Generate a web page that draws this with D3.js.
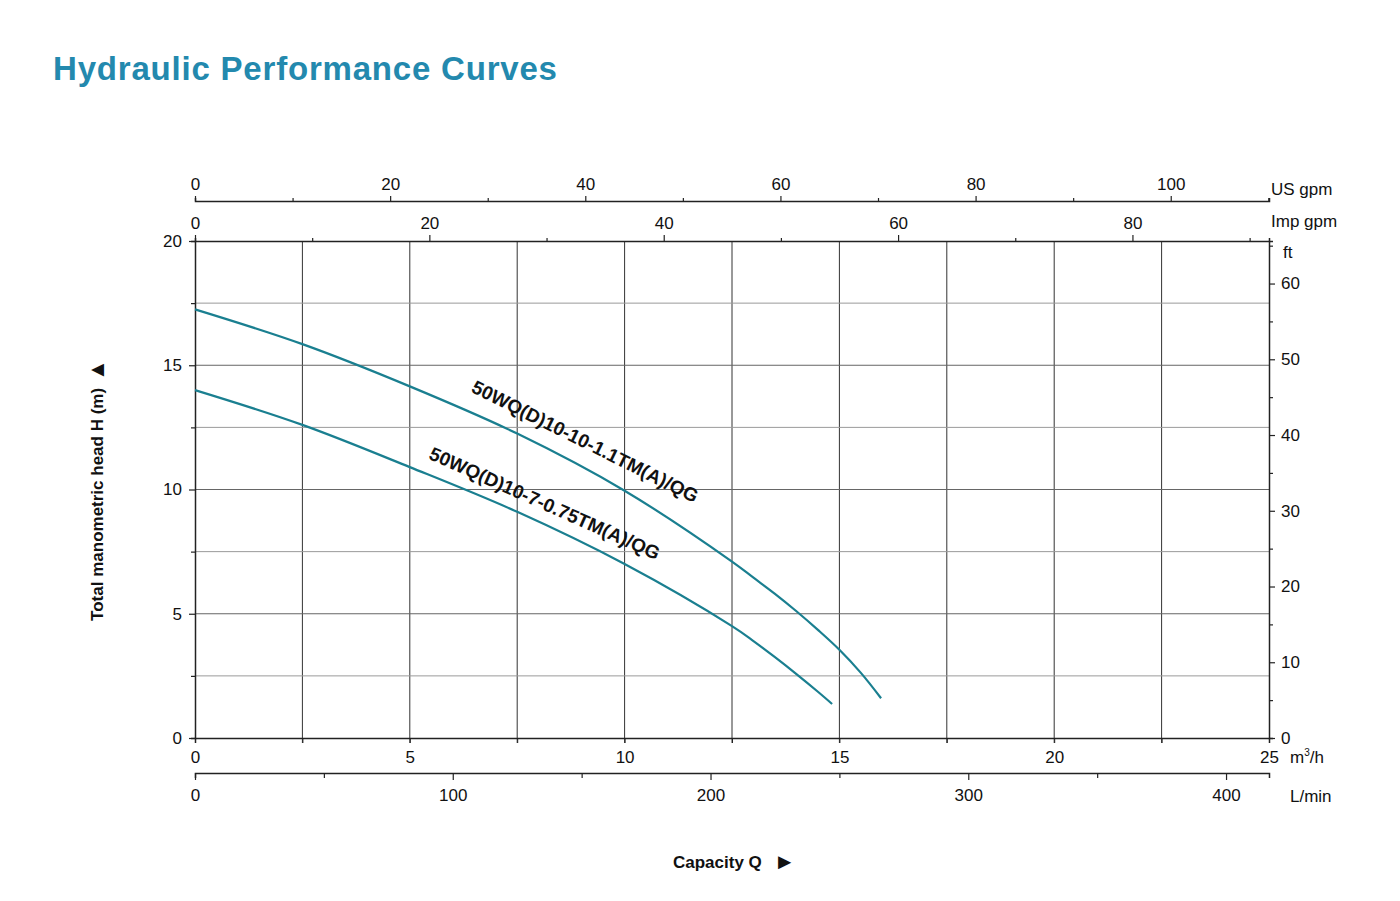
<!DOCTYPE html>
<html>
<head>
<meta charset="utf-8">
<script src="https://cdn.jsdelivr.net/npm/d3@7"></script>
<style>
  body { margin: 0; background: #fff; }
  text { font-family: "Liberation Sans", Arial, sans-serif; }
  .axis text { font-size: 17px; fill: #111; }
  .axis path, .axis line { stroke: #222; }
</style>
</head>
<body>
<svg id="chart" width="1400" height="901"></svg>
<script>
// flow in m3/h, head in m
const flow1 = [0, 2.5, 5, 7.5, 10, 12.5, 13, 13.5, 14, 14.5, 15, 15.5, 15.97];
const head1 = [17.25, 15.85, 14.15, 12.25, 9.95, 7.1, 6.45, 5.8, 5.1, 4.35, 3.55, 2.62, 1.6];
const flow2 = [0, 2.5, 5, 7.5, 10, 12.5, 13, 13.5, 14, 14.5, 14.83];
const head2 = [14.0, 12.6, 10.9, 9.1, 7.0, 4.5, 3.9, 3.25, 2.57, 1.86, 1.37];

const curveNames = ['50WQ(D)10-10-1.1TM(A)/QG', '50WQ(D)10-7-0.75TM(A)/QG'];
// label centre (m3/h, m) and angle
const labelFlow = [9.08, 8.14];
const labelHead = [11.93, 9.44];
const labelAngle = [26.5, 24];

const m3hTicks = [0, 5, 10, 15, 20, 25];
const headTicks = [0, 5, 10, 15, 20];
const ftTicks = [0, 10, 20, 30, 40, 50, 60];
const usTicks = [0, 20, 40, 60, 80, 100];
const impTicks = [0, 20, 40, 60, 80];
const lminTicks = [0, 100, 200, 300, 400];

const svg = d3.select('#chart');

const plotL = 195, plotR = 1269, plotT = 241, plotB = 738;
const qMax = 25, hMax = 20;

let x = d3.scaleLinear().domain([0, qMax]).range([plotL, plotR]);
let y = d3.scaleLinear().domain([0, hMax]).range([plotB, plotT]);
// other unit scales share the same pixel span
let xUS = d3.scaleLinear().domain([0, qMax / 0.227125]).range([plotL, plotR]);
let xImp = d3.scaleLinear().domain([0, qMax / 0.272766]).range([plotL, plotR]);
let xLmin = d3.scaleLinear().domain([0, qMax / 0.06]).range([plotL, plotR]);
let yFt = d3.scaleLinear().domain([0, hMax / 0.3048]).range([plotB, plotT]);

// title
svg.append('text')
  .attr('x', 53).attr('y', 80)
  .style('font-size', '33px').style('font-weight', 'bold')
  .style('letter-spacing', '0.8px')
  .style('fill', '#2389ae')
  .text('Hydraulic Performance Curves');

// grid
const grid = svg.append('g');
grid.selectAll('.vg')
  .data(d3.range(2.5, qMax, 2.5))
  .enter().append('line')
  .attr('x1', (d) => x(d)).attr('x2', (d) => x(d))
  .attr('y1', plotT).attr('y2', plotB + 5)
  .attr('stroke', '#333').attr('stroke-width', 1);
grid.selectAll('.hg')
  .data(d3.range(2.5, hMax, 2.5))
  .enter().append('line')
  .attr('x1', plotL).attr('x2', plotR)
  .attr('y1', (d) => y(d)).attr('y2', (d) => y(d))
  .attr('stroke', (d) => d % 5 === 0 ? '#666' : '#9a9a9a')
  .attr('stroke-width', 1);

// helper: draw an axis with labelled major ticks and short minor ticks
function drawAxis(axisFn, scale, majors, minorStep, majorLen, minorLen, pad, transform) {
  const g = svg.append('g').attr('class', 'axis').attr('transform', transform);
  const dom = scale.domain();
  const minors = d3.range(0, dom[1] + 1e-6, minorStep).filter((v) => !majors.includes(v));
  g.call(axisFn(scale).tickValues(minors).tickSize(minorLen).tickFormat(''));
  g.append('g').call(axisFn(scale).tickValues(majors).tickSize(majorLen).tickPadding(pad))
    .select('.domain').remove();
  g.selectAll('.domain').attr('stroke-width', 1.5);
  g.selectAll('line').attr('stroke-width', 1.2);
  return g;
}

// left head axis
drawAxis(d3.axisLeft, y, headTicks, 2.5, 6, 4, 7, `translate(${plotL},0)`);
// right ft axis
drawAxis(d3.axisRight, yFt, ftTicks, 5, 6, 4, 6, `translate(${plotR},0)`);
// bottom m3/h
const bx = svg.append('g').attr('class', 'axis').attr('transform', `translate(0,${plotB})`);
bx.call(d3.axisBottom(x).tickValues(d3.range(0, qMax + 0.1, 2.5)).tickSize(5).tickPadding(8)
  .tickFormat((d) => m3hTicks.includes(d) ? d : ''));
bx.selectAll('.domain').attr('stroke-width', 1.5);
// L/min
drawAxis(d3.axisBottom, xLmin, lminTicks, 50, 7, 5, 9, 'translate(0,773)');
// US gpm
drawAxis(d3.axisTop, xUS, usTicks, 10, 5, 3, 6, 'translate(0,201)');
// Imp gpm
drawAxis(d3.axisTop, xImp, impTicks, 10, 6, 3, 6, `translate(0,${plotT})`);

// unit labels
const units = [
  ['US gpm', 1271, 195], ['Imp gpm', 1271, 227], ['ft', 1283, 258],
  ['L/min', 1290, 802]
];
svg.selectAll('.unit').data(units).enter().append('text')
  .attr('x', (d) => d[1]).attr('y', (d) => d[2])
  .style('font-size', '17px').style('fill', '#111')
  .text((d) => d[0]);
const m3 = svg.append('text').attr('x', 1290).attr('y', 763)
  .style('font-size', '17px').style('fill', '#111');
m3.append('tspan').text('m');
m3.append('tspan').attr('dy', -7).style('font-size', '10px').text('3');
m3.append('tspan').attr('dy', 7).text('/h');

// axis titles
const yTitle = svg.append('text')
  .attr('transform', 'translate(103,490) rotate(-90)')
  .attr('text-anchor', 'middle')
  .style('font-size', '17px').style('font-weight', 'bold').style('fill', '#111');
yTitle.append('tspan').text('Total manometric head H (m)');
yTitle.append('tspan').attr('dx', 7).attr('dy', 1).style('font-size', '22px').text('\u25B2');
const xTitle = svg.append('text')
  .attr('x', 673).attr('y', 868)
  .style('font-size', '17px').style('font-weight', 'bold').style('fill', '#111');
xTitle.append('tspan').text('Capacity Q');
xTitle.append('tspan').attr('dx', 12).attr('dy', 1).style('font-size', '22px').text('\u25BA');

// curves
let line = d3.line()
  .x((d) => x(d[0]))
  .y((d) => y(d[1]))
  .curve(d3.curveCatmullRom.alpha(0.5));

const series = [d3.zip(flow1, head1), d3.zip(flow2, head2)];
svg.selectAll('.curve').data(series).enter().append('path')
  .attr('d', line)
  .attr('fill', 'none')
  .attr('stroke', '#1a7f90')
  .attr('stroke-width', 2.2);

// curve labels
svg.selectAll('.clabel').data(curveNames).enter().append('text')
  .attr('transform', (d, i) => `translate(${x(labelFlow[i])},${y(labelHead[i])}) rotate(${labelAngle[i]})`)
  .attr('text-anchor', 'middle')
  .attr('dominant-baseline', 'central')
  .style('font-size', '19px').style('font-weight', 'bold').style('fill', '#111')
  .text((d) => d);
</script>
</body>
</html>
